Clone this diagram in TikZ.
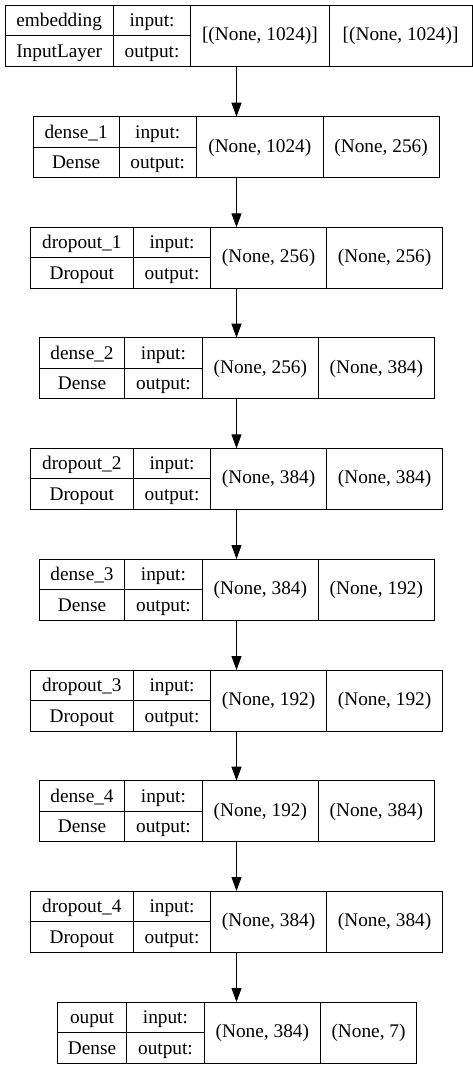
\documentclass[tikz,border=0pt]{standalone}
\usepackage{fontspec}
\setmainfont{Liberation Serif}
\usetikzlibrary{positioning,arrows.meta}

\begin{document}
\begin{tikzpicture}[x=1pt,y=-1pt,
  every node/.style={font=\fontsize{19.3}{23}\selectfont},
  cell/.style={draw,line width=1pt,inner sep=0,outer sep=0,minimum width=#1},
  half/.style={cell=#1,minimum height=30.6,text height=15.6,text depth=3},
  full/.style={cell=#1,minimum height=61.2,text height=14,text depth=4},
  flow/.style={line width=1pt,-{Triangle[length=14pt,width=10pt]}},
  node distance=0]
\useasboundingbox (0,0) rectangle (473,1069);
\coordinate (axis) at (236.5,0);
% embedding
\node[half=108.3,anchor=north west] (embname) at (5,5.3) {embedding};
\node[half=108.3,below=of embname] (embtype) {InputLayer};
\node[half=77.5,right=of embname] (embin) {input:};
\node[half=77.5,right=of embtype] (embout) {output:};
\node[full=138.3,below right=of embin.north east] (embinsh) {[(None, 1024)]};
\node[full=143,below right=of embinsh.north east] (emboutsh) {[(None, 1024)]};
% dense_1
\node[half=85.7,anchor=north west] (d1name) at (33.3,116.7) {dense\_1};
\node[half=85.7,below=of d1name] (d1type) {Dense};
\node[half=77.5,right=of d1name] (d1in) {input:};
\node[half=77.5,right=of d1type] (d1out) {output:};
\node[full=126.6,below right=of d1in.north east] (d1insh) {(None, 1024)};
\node[full=116,below right=of d1insh.north east] (d1outsh) {(None, 256)};
% dropout_1
\node[half=103,anchor=north west] (dr1name) at (30.3,227.3) {dropout\_1};
\node[half=103,below=of dr1name] (dr1type) {Dropout};
\node[half=77.5,right=of dr1name] (dr1in) {input:};
\node[half=77.5,right=of dr1type] (dr1out) {output:};
\node[full=115.6,below right=of dr1in.north east] (dr1insh) {(None, 256)};
\node[full=116.4,below right=of dr1insh.north east] (dr1outsh) {(None, 256)};
% dense_2
\node[half=85.4,anchor=north west] (d2name) at (39.3,337.7) {dense\_2};
\node[half=85.4,below=of d2name] (d2type) {Dense};
\node[half=77.5,right=of d2name] (d2in) {input:};
\node[half=77.5,right=of d2type] (d2out) {output:};
\node[full=116.3,below right=of d2in.north east] (d2insh) {(None, 256)};
\node[full=115.7,below right=of d2insh.north east] (d2outsh) {(None, 384)};
% dropout_2
\node[half=103,anchor=north west] (dr2name) at (30.3,448.3) {dropout\_2};
\node[half=103,below=of dr2name] (dr2type) {Dropout};
\node[half=77.5,right=of dr2name] (dr2in) {input:};
\node[half=77.5,right=of dr2type] (dr2out) {output:};
\node[full=115.6,below right=of dr2in.north east] (dr2insh) {(None, 384)};
\node[full=116.4,below right=of dr2insh.north east] (dr2outsh) {(None, 384)};
% dense_3
\node[half=85.4,anchor=north west] (d3name) at (39.3,559) {dense\_3};
\node[half=85.4,below=of d3name] (d3type) {Dense};
\node[half=77.5,right=of d3name] (d3in) {input:};
\node[half=77.5,right=of d3type] (d3out) {output:};
\node[full=116.3,below right=of d3in.north east] (d3insh) {(None, 384)};
\node[full=115.7,below right=of d3insh.north east] (d3outsh) {(None, 192)};
% dropout_3
\node[half=103,anchor=north west] (dr3name) at (30.3,670) {dropout\_3};
\node[half=103,below=of dr3name] (dr3type) {Dropout};
\node[half=77.5,right=of dr3name] (dr3in) {input:};
\node[half=77.5,right=of dr3type] (dr3out) {output:};
\node[full=115.6,below right=of dr3in.north east] (dr3insh) {(None, 192)};
\node[full=116.4,below right=of dr3insh.north east] (dr3outsh) {(None, 192)};
% dense_4
\node[half=85.4,anchor=north west] (d4name) at (39.3,780.7) {dense\_4};
\node[half=85.4,below=of d4name] (d4type) {Dense};
\node[half=77.5,right=of d4name] (d4in) {input:};
\node[half=77.5,right=of d4type] (d4out) {output:};
\node[full=116.3,below right=of d4in.north east] (d4insh) {(None, 192)};
\node[full=115.7,below right=of d4insh.north east] (d4outsh) {(None, 384)};
% dropout_4
\node[half=103,anchor=north west] (dr4name) at (30.3,891) {dropout\_4};
\node[half=103,below=of dr4name] (dr4type) {Dropout};
\node[half=77.5,right=of dr4name] (dr4in) {input:};
\node[half=77.5,right=of dr4type] (dr4out) {output:};
\node[full=115.6,below right=of dr4in.north east] (dr4insh) {(None, 384)};
\node[full=116.4,below right=of dr4insh.north east] (dr4outsh) {(None, 384)};
% ouput
\node[half=69.4,anchor=north west] (outname) at (57.3,1002) {ouput};
\node[half=69.4,below=of outname] (outtype) {Dense};
\node[half=77.5,right=of outname] (outin) {input:};
\node[half=77.5,right=of outtype] (outout) {output:};
\node[full=116.3,below right=of outin.north east] (outinsh) {(None, 384)};
\node[full=96,below right=of outinsh.north east] (outoutsh) {(None, 7)};
% arrows
\draw[flow] (embinsh.south -| axis) -- (d1insh.north -| axis);
\draw[flow] (d1insh.south -| axis) -- (dr1insh.north -| axis);
\draw[flow] (dr1insh.south -| axis) -- (d2insh.north -| axis);
\draw[flow] (d2insh.south -| axis) -- (dr2insh.north -| axis);
\draw[flow] (dr2insh.south -| axis) -- (d3insh.north -| axis);
\draw[flow] (d3insh.south -| axis) -- (dr3insh.north -| axis);
\draw[flow] (dr3insh.south -| axis) -- (d4insh.north -| axis);
\draw[flow] (d4insh.south -| axis) -- (dr4insh.north -| axis);
\draw[flow] (dr4insh.south -| axis) -- (outinsh.north -| axis);
\end{tikzpicture}
\end{document}
